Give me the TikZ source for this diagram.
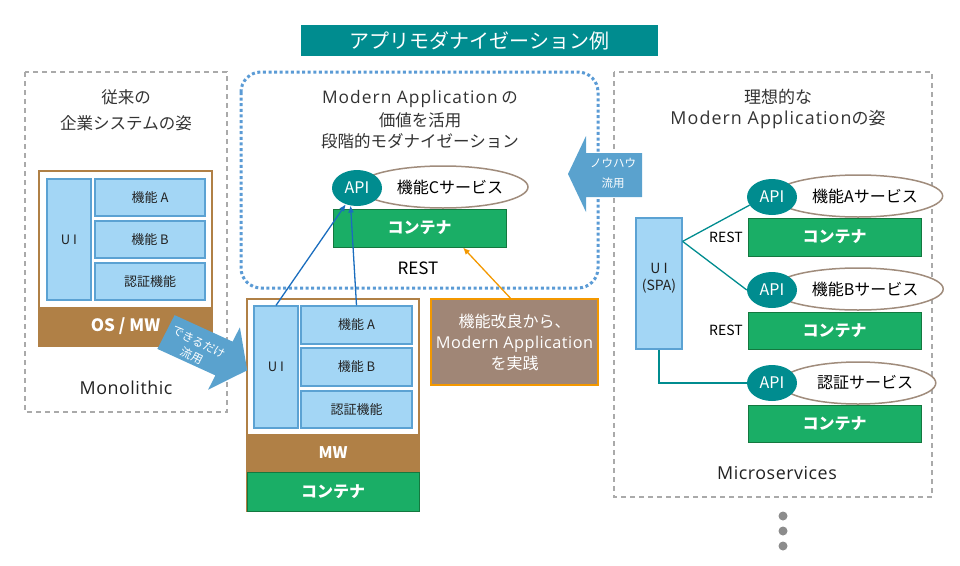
\documentclass[tikz,border=0pt]{standalone}
\usepackage{fontspec}
\setmainfont{Noto Sans CJK JP}
\newfontfamily\lat{Open Sans}[Scale=1.05, LetterSpace=3]
\newfontfamily\latw{Open Sans}[Scale=1.05, LetterSpace=6]
\usetikzlibrary{shapes.geometric,arrows.meta,calc}
\definecolor{teal1}{HTML}{008C8F}
\definecolor{lblue}{HTML}{A3D6F5}
\definecolor{lbord}{HTML}{5BA2D3}
\definecolor{brownb}{HTML}{B08046}
\definecolor{greenb}{HTML}{1AAE66}
\definecolor{greend}{HTML}{14783F}
\definecolor{arrblue}{HTML}{5AA2CE}
\definecolor{dotblue}{HTML}{5B9BD5}
\definecolor{dashgray}{HTML}{AAAAAA}
\definecolor{linkblue}{HTML}{1A6DBE}
\definecolor{orange1}{HTML}{F39800}
\definecolor{notebg}{HTML}{A08676}
\definecolor{ellbord}{HTML}{A08C7C}
\definecolor{txt}{HTML}{333333}
\definecolor{txtdark}{HTML}{222222}
\definecolor{dotgray}{HTML}{8C8C8C}
\newcommand{\fsz}[2]{\fontsize{#1}{#2}\selectfont}
\tikzset{
 box/.style={rectangle, inner sep=0pt, anchor=center},
 lbox/.style={box, draw=lbord, fill=lblue, line width=1.2pt, text=txtdark, font=\fsz{13}{16}},
 contbox/.style={box, draw=greend, fill=greenb, line width=1pt, text=white, font=\fsz{16}{19}\bfseries},
 apinode/.style={ellipse, fill=teal1, text=white, minimum width=50pt, minimum height=36pt, inner sep=0pt, font=\fsz{16}{19}},
 svcnode/.style={ellipse, draw=ellbord, line width=1.5pt, fill=white, minimum width=130pt, minimum height=42pt, inner sep=0pt, font=\fsz{16}{19}, text=black},
 head/.style={text=txt, font=\fsz{16.5}{20}},
 link/.style={linkblue, line width=1.3pt, -{Latex[length=7pt,width=6pt]}},
 tealline/.style={teal1, line width=1.3pt},
 dashframe/.style={draw=dashgray, line width=1.3pt, dash pattern=on 5pt off 4pt},
 restlbl/.style={text=black, font=\fsz{14}{17}},
 arrtxt/.style={text=white, inner sep=0pt},
}
\begin{document}
\begin{tikzpicture}[x=1pt,y=-1pt]
\path[use as bounding box] (0,0) rectangle (960,565);

% title
\node[box, fill=teal1, minimum width=357pt, minimum height=31pt, text=white, font=\fsz{20}{24}] (title) at (479.5,40.5) {アプリモダナイゼーション例};

% ---------- left frame ----------
\draw[dashframe] (25,72) rectangle (227,412);
\node[head] (lh1) at (126,97) {従来の};
\node[head] (lh2) at (126,123) {企業システムの姿};
\node[box, draw=brownb, fill=white, line width=1.5pt, minimum width=173pt, minimum height=175pt] (lframe) at (125.5,258.5) {};
\node[box, fill=brownb, minimum width=174.5pt, minimum height=39pt, text=white, font=\fsz{17}{20}\bfseries] (lmw) at (125.5,326.5) {OS / MW};
\node[lbox, minimum width=44pt, minimum height=121pt] (lUI) at (69,239.5) {U I};
\node[lbox, minimum width=110pt, minimum height=37pt] (lA) at (150,197.5) {機能 A};
\node[lbox, minimum width=110pt, minimum height=37pt] (lB) at (150,239.5) {機能 B};
\node[lbox, minimum width=110pt, minimum height=37pt] (lC) at (150,281.5) {認証機能};
\node[text=txtdark, font=\lat\fsz{17}{20}] (mono) at (126,388) {Monolithic};

% ---------- middle frame ----------
\draw[dotblue, line width=3pt, dash pattern=on 3pt off 2.6pt, rounded corners=20pt] (241,72) rectangle (598,288);
\node[head] (mh1) at (420,98.5) {{\latw Modern Application} の};
\node[head] (mh2) at (420,120) {価値を活用};
\node[head] (mh3) at (420,141.5) {段階的モダナイゼーション};
\node[svcnode] (mSvc) at (443,187) {\hspace*{14pt}機能Cサービス};
\node[apinode] (mAPI) at (357,188) {API};
\node[contbox, minimum width=173pt, minimum height=38pt] (mCont) at (419.5,228) {コンテナ};
\node[text=black, font=\fsz{17}{20}] (mrest) at (418,268) {REST};

% middle lower stack
\node[box, draw=brownb, fill=white, line width=1.5pt, minimum width=172pt, minimum height=212pt] (mframe) at (333,405) {};
\node[box, fill=brownb, minimum width=173.5pt, minimum height=38pt, text=white, font=\fsz{16}{19}\bfseries] (mmw) at (333,453) {MW};
\node[contbox, minimum width=172pt, minimum height=39pt] (mCont2) at (333,491.5) {コンテナ};
\node[lbox, minimum width=44pt, minimum height=122pt] (mUI) at (276,367) {U I};
\node[lbox, minimum width=111pt, minimum height=38pt] (mA) at (356.5,325) {機能 A};
\node[lbox, minimum width=111pt, minimum height=38pt] (mB) at (356.5,367) {機能 B};
\node[lbox, minimum width=111pt, minimum height=37pt] (mC) at (356.5,409.5) {認証機能};

% note
\node[box, draw=orange1, fill=notebg, line width=1.5pt, minimum width=167pt, minimum height=86pt, text=white, align=center, font=\fsz{16}{21}] (note) at (514.5,342) {機能改良から、\\{\lat\fsz{15.5}{21}Modern Application}\\を実践};

% ---------- right frame ----------
\draw[dashframe] (614,72) rectangle (932,497);
\node[head, font=\fsz{17}{20}] (rh1) at (778,97) {理想的な};
\node[head, font=\fsz{17}{20}] (rh2) at (778,119.5) {{\latw Modern Application}の姿};
\node[lbox, minimum width=46pt, minimum height=131pt] (rUI) at (659,283.5) {};
\node[text=txtdark, align=center, font=\fsz{14}{17}, inner sep=0pt] (rUIt) at (659,278.5) {U I\\(SPA)};

\node[svcnode] (rSvcA) at (858,196) {\hspace*{14pt}機能Aサービス};
\node[apinode] (rAPIA) at (772,197) {API};
\node[contbox, minimum width=173pt, minimum height=38pt] (rContA) at (834.5,237) {コンテナ};
\node[restlbl] (rrest1) at (726,237) {REST};

\node[svcnode] (rSvcB) at (858,289) {\hspace*{14pt}機能Bサービス};
\node[apinode] (rAPIB) at (772,290) {API};
\node[contbox, minimum width=173pt, minimum height=37pt] (rContB) at (834.5,330.5) {コンテナ};
\node[restlbl] (rrest2) at (726,330) {REST};

\node[svcnode] (rSvcC) at (858,383) {\hspace*{14pt}認証サービス};
\node[apinode] (rAPIC) at (772,383) {API};
\node[contbox, minimum width=173pt, minimum height=37pt] (rContC) at (834.5,423.5) {コンテナ};

\node[text=txtdark, font=\lat\fsz{17}{20}] (micro) at (777,473) {Microservices};
\fill[dotgray] (783,516) circle[radius=4.5pt] (783,531) circle[radius=4.5pt] (783,546) circle[radius=4.5pt];

% ---------- big arrows ----------
\fill[arrblue] (174.6,315.1) -- (232.6,341.6) -- (239.9,327.3) -- (247.2,370.3) -- (208.1,389.7) -- (215.4,375.4) -- (157.4,348.9) -- cycle;
\node[arrtxt, rotate=-27, align=center, font=\fsz{11.5}{15}] (reuse1) at (195.5,349) {できるだけ\\流用};
\fill[arrblue] (642,153) -- (586,153) -- (586,136) -- (568,174) -- (586,212) -- (586,197) -- (642,197) -- cycle;
\node[arrtxt, font=\fsz{11.5}{14}] (reuse2a) at (613,163) {ノウハウ};
\node[arrtxt, font=\fsz{11.5}{14}] (reuse2b) at (613,183) {流用};

% ---------- connectors ----------
\draw[link] (mUI.north) -- (mAPI);
\draw[link] (mA.north) -- (mAPI.250);
\draw[orange1, line width=1.3pt, -{Latex[length=7pt,width=6pt]}] ($(note.north)+(-4,0)$) -- ($(mCont.south west)!0.75!(mCont.south east)$);
\coordinate (rj) at ($(rUI.north east)+(0,24)$);
\draw[tealline] (rj) -- (rAPIA.200);
\draw[tealline] (rj) -- (rAPIB.west);
\draw[tealline] (rUI.south) |- (rAPIC.west);
\end{tikzpicture}
\end{document}
